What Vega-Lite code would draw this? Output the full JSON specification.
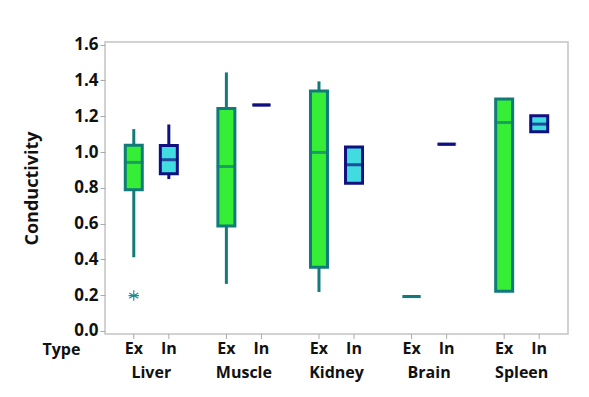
{
  "$schema": "https://vega.github.io/schema/vega-lite/v6.json",
  "width": 463,
  "height": 292,
  "autosize": {"type": "none"},
  "padding": {"left": 105, "top": 42, "right": 21, "bottom": 63},
  "background": "white",
  "config": {
    "view": {"stroke": "#c4c4c4", "strokeWidth": 1.5},
    "font": "Open Sans",
    "axis": {"labelFont": "Open Sans", "titleFont": "Open Sans", "labelColor": "#111", "titleColor": "#111"},
    "axisY": {
      "titleFontSize": 18, "titleFontWeight": "bold", "titlePadding": 32,
      "values": [0, 0.2, 0.4, 0.6, 0.8, 1.0, 1.2, 1.4, 1.6], "format": ".1f",
      "labelFontSize": 17, "labelFontWeight": "bold", "labelPadding": 2, "labelOverlap": false,
      "tickColor": "#aaaaaa", "tickSize": 5, "grid": false, "domain": false
    }
  },
  "data": {
    "values": [
      {"Tissue": "Liver", "Type": "Ex", "lo": 0.412, "q1": 0.789, "med": 0.942, "q3": 1.038, "hi": 1.128, "outlier": 0.198},
      {"Tissue": "Liver", "Type": "In", "lo": 0.849, "q1": 0.878, "med": 0.957, "q3": 1.037, "hi": 1.154},
      {"Tissue": "Muscle", "Type": "Ex", "lo": 0.263, "q1": 0.587, "med": 0.919, "q3": 1.244, "hi": 1.445},
      {"Tissue": "Muscle", "Type": "In", "lo": 1.263, "q1": 1.263, "med": 1.263, "q3": 1.263, "hi": 1.263},
      {"Tissue": "Kidney", "Type": "Ex", "lo": 0.218, "q1": 0.356, "med": 0.998, "q3": 1.341, "hi": 1.395},
      {"Tissue": "Kidney", "Type": "In", "lo": 0.826, "q1": 0.826, "med": 0.929, "q3": 1.028, "hi": 1.028},
      {"Tissue": "Brain", "Type": "Ex", "lo": 0.192, "q1": 0.192, "med": 0.192, "q3": 0.192, "hi": 0.192},
      {"Tissue": "Brain", "Type": "In", "lo": 1.044, "q1": 1.044, "med": 1.044, "q3": 1.044, "hi": 1.044},
      {"Tissue": "Spleen", "Type": "Ex", "lo": 0.222, "q1": 0.222, "med": 1.165, "q3": 1.296, "hi": 1.296},
      {"Tissue": "Spleen", "Type": "In", "lo": 1.113, "q1": 1.113, "med": 1.156, "q3": 1.203, "hi": 1.203}
    ]
  },
  "encoding": {
    "x": {
      "field": "Tissue", "type": "nominal",
      "sort": ["Liver", "Muscle", "Kidney", "Brain", "Spleen"],
      "scale": {"paddingInner": 0.243, "paddingOuter": 0.1215},
      "axis": {
        "title": "Type", "titleAnchor": "start", "titleAlign": "left", "titleBaseline": "middle",
        "titleX": -63, "titleY": 15, "titleFontSize": 16, "titleFontWeight": "bold",
        "labelAngle": 0, "labelFontSize": 16, "labelFontWeight": "bold", "labelPadding": 30,
        "ticks": false, "domain": false
      }
    },
    "xOffset": {
      "field": "Type", "type": "nominal",
      "sort": ["Ex", "In"],
      "scale": {"paddingInner": 0, "paddingOuter": 0}
    }
  },
  "layer": [
    {
      "mark": {"type": "rule", "strokeWidth": 3},
      "encoding": {
        "y": {
          "field": "lo", "type": "quantitative",
          "scale": {"domain": [-0.017, 1.615], "nice": false, "zero": false},
          "title": "Conductivity"
        },
        "y2": {"field": "hi"},
        "stroke": {
          "field": "Type", "type": "nominal",
          "scale": {"domain": ["Ex", "In"], "range": ["#127A7A", "#101080"]},
          "legend": null
        }
      }
    },
    {
      "mark": {"type": "bar", "width": 17, "strokeWidth": 3},
      "encoding": {
        "y": {"field": "q1", "type": "quantitative", "title": "Conductivity"},
        "y2": {"field": "q3"},
        "fill": {
          "field": "Type", "type": "nominal",
          "scale": {"domain": ["Ex", "In"], "range": ["#36EE36", "#40DCE0"]},
          "legend": null
        },
        "stroke": {"field": "Type", "type": "nominal", "legend": null}
      }
    },
    {
      "mark": {"type": "tick", "size": 19, "thickness": 3, "orient": "horizontal"},
      "encoding": {
        "y": {"field": "med", "type": "quantitative", "title": "Conductivity"},
        "color": {
          "field": "Type", "type": "nominal",
          "scale": {"domain": ["Ex", "In"], "range": ["#127A7A", "#101080"]},
          "legend": null
        }
      }
    },
    {
      "mark": {
        "type": "point",
        "shape": "M0,-1L0,1M-0.87,-0.5L0.87,0.5M-0.87,0.5L0.87,-0.5M-1,0L1,0",
        "filled": false, "size": 110, "strokeWidth": 1.2, "opacity": 1, "color": "#1E8C8C"
      },
      "encoding": {
        "y": {"field": "outlier", "type": "quantitative", "title": "Conductivity"}
      }
    },
    {
      "mark": {"type": "rule", "stroke": "#aaaaaa", "strokeWidth": 1},
      "encoding": {
        "y": {"datum": -0.017},
        "y2": {"datum": -0.045}
      }
    },
    {
      "mark": {"type": "text", "fontSize": 16, "fontWeight": "bold", "baseline": "middle", "align": "center", "color": "#111"},
      "encoding": {
        "y": {"datum": -0.1},
        "text": {"field": "Type", "type": "nominal"}
      }
    }
  ]
}
